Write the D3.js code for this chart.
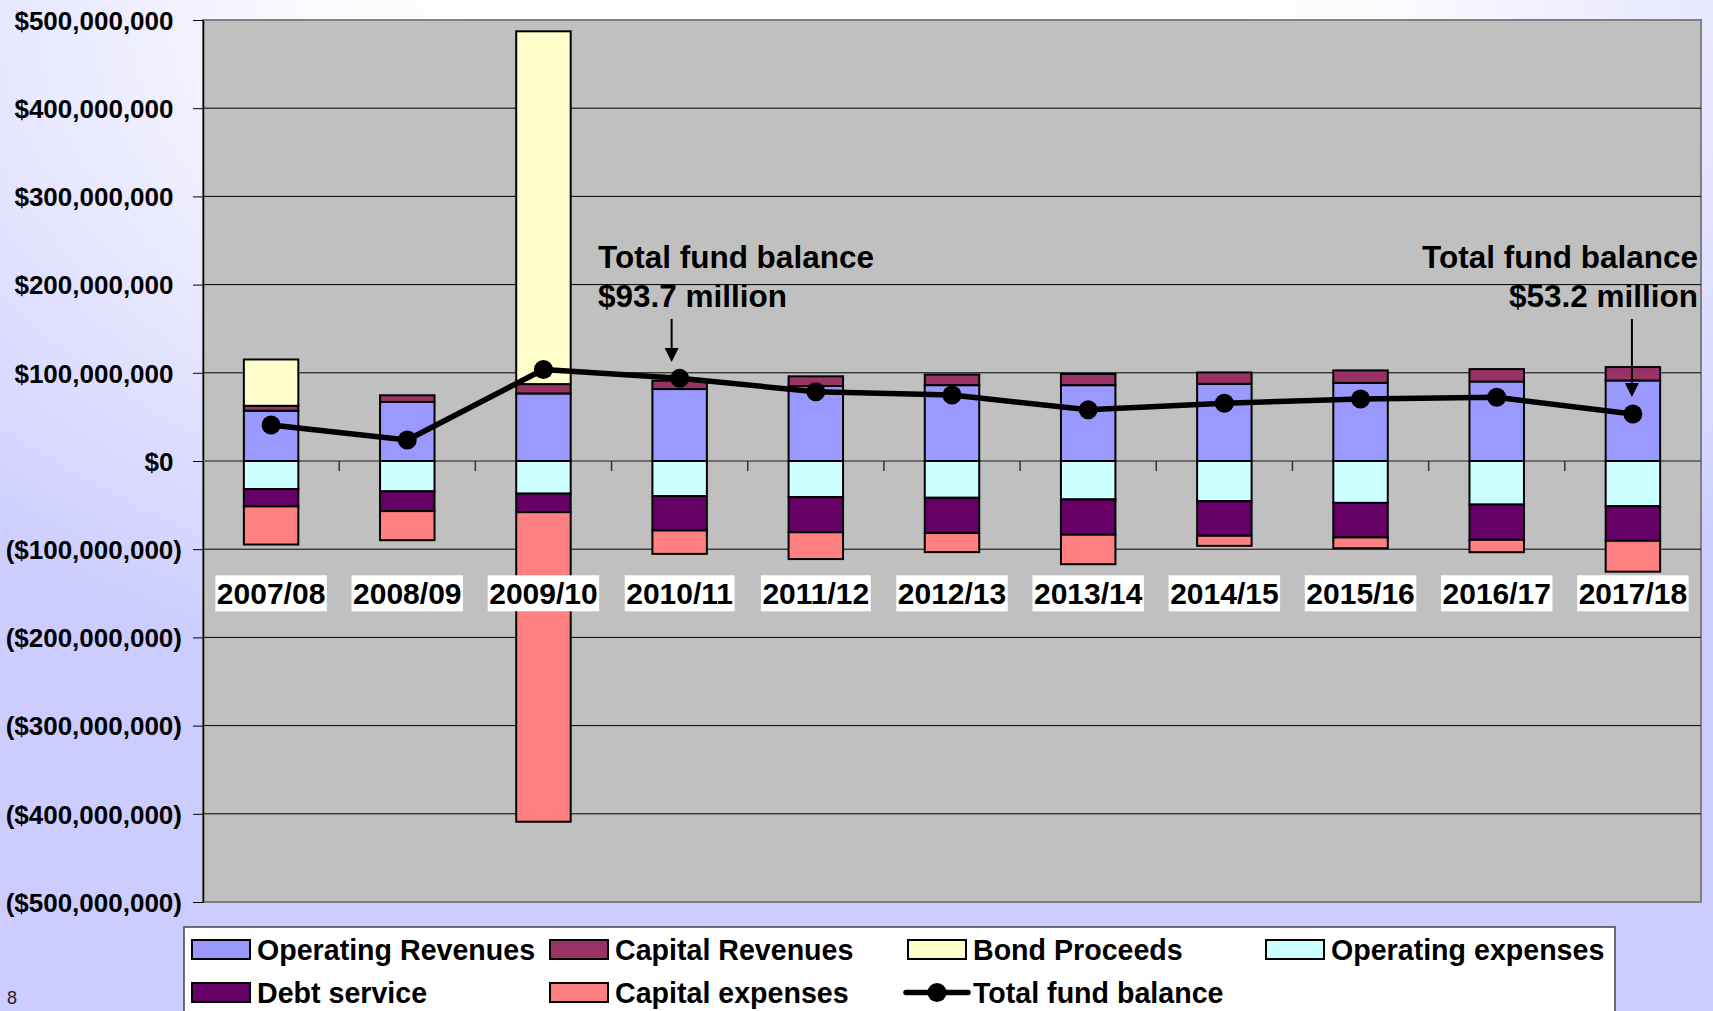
<!DOCTYPE html>
<html>
<head>
<meta charset="utf-8">
<script src="https://cdn.jsdelivr.net/npm/d3@7"></script>
<style>
  html, body { margin: 0; padding: 0; overflow: hidden; }
  svg { display: block; font-family: "Liberation Sans", Arial, sans-serif; }
</style>
</head>
<body>
<script>
// values in millions of dollars
const years = ["2007/08", "2008/09", "2009/10", "2010/11", "2011/12", "2012/13",
               "2013/14", "2014/15", "2015/16", "2016/17", "2017/18"];
const operatingRevenues = [57, 67, 76.6, 81.6, 85, 86, 86, 87.5, 88.6, 90.1, 91.3];
const capitalRevenues   = [5.6, 7.5, 10.6, 9.5, 11, 12, 12.7, 12.9, 14.1, 14.1, 15.2];
const bondProceeds      = [52.5, 0, 400, 0, 0, 0, 0, 0, 0, 0, 0];
const operatingExpenses = [31.8, 34.4, 37, 39.8, 41, 41.7, 43.6, 45.6, 47.5, 49.4, 51.3];
const debtService       = [19.7, 22.4, 21, 39, 39.8, 40, 40, 39.2, 39.2, 40, 39.2];
const capitalExpenses   = [43.2, 33, 351, 26.5, 30.4, 21.6, 33.4, 11.4, 12.2, 14, 35];
const fundBalance       = [40.8, 23.8, 103.8, 93.7, 78.6, 74.8, 58, 65.4, 70.3, 72.2, 53.2];
const yTicks = [500, 400, 300, 200, 100, 0, -100, -200, -300, -400, -500];

const series = [
  { key: "opRev",  name: "Operating Revenues", color: "#9999FF", vals: operatingRevenues, sign: 1 },
  { key: "capRev", name: "Capital Revenues",   color: "#993366", vals: capitalRevenues, sign: 1 },
  { key: "bond",   name: "Bond Proceeds",      color: "#FFFFCC", vals: bondProceeds, sign: 1 },
  { key: "opExp",  name: "Operating expenses", color: "#CCFFFF", vals: operatingExpenses, sign: -1 },
  { key: "debt",   name: "Debt service",       color: "#660066", vals: debtService, sign: -1 },
  { key: "capExp", name: "Capital expenses",   color: "#FF8080", vals: capitalExpenses, sign: -1 }
];

const W = 1713, H = 1011;
const plot = { left: 203, right: 1701, top: 20, bottom: 902 };
const font = '"Liberation Sans", Arial, sans-serif';

const svg = d3.select("body").append("svg")
    .attr("width", W)
    .attr("height", H);

// background gradient
const defs = svg.append("defs");
const grad = defs.append("radialGradient")
    .attr("id", "bg")
    .attr("cx", 0.5).attr("cy", 0).attr("r", 1)
    .attr("fx", 0.5).attr("fy", 0);
grad.append("stop").attr("offset", 0).attr("stop-color", "#ffffff");
grad.append("stop").attr("offset", 0.3).attr("stop-color", "#fcfcff");
grad.append("stop").attr("offset", 0.75).attr("stop-color", "#ccccff");
grad.append("stop").attr("offset", 1).attr("stop-color", "#ccccff");
svg.append("rect").attr("width", W).attr("height", H).attr("fill", "url(#bg)");

// build table for the stack
const table = years.map((yr, i) => {
  const row = { year: yr };
  series.forEach(s => row[s.key] = s.sign * s.vals[i] * 1e6);
  return row;
});
const stacked = d3.stack()
    .keys(series.map(s => s.key))
    .offset(d3.stackOffsetDiverging)(table);

const x = d3.scaleBand()
    .domain(years)
    .range([plot.left, plot.right])
    .paddingInner(0.6)
    .paddingOuter(0.3);
const step = x.step();

const y = d3.scaleLinear()
    .domain([-5e8, 5e8])
    .range([plot.bottom, plot.top]);

// plot area
svg.append("rect")
    .attr("x", plot.left).attr("y", plot.top)
    .attr("width", plot.right - plot.left)
    .attr("height", plot.bottom - plot.top)
    .attr("fill", "#C0C0C0")
    .attr("stroke", "#808080")
    .attr("stroke-width", 2);

// gridlines
svg.append("g")
  .selectAll("line")
  .data(yTicks.filter(t => t !== 0 && Math.abs(t) !== 500))
  .join("line")
    .attr("x1", plot.left).attr("x2", plot.right)
    .attr("y1", d => y(d * 1e6)).attr("y2", d => y(d * 1e6))
    .attr("stroke", "#000")
    .attr("stroke-width", 1);

// y axis
const fmt = d3.format("$,");
const yAxis = d3.axisLeft(y)
    .tickValues(yTicks.map(t => t * 1e6))
    .tickSize(10)
    .tickSizeOuter(0)
    .tickFormat(v => v < 0 ? "(" + fmt(-v) + ")" : fmt(v));
const ya = svg.append("g")
    .attr("transform", `translate(${plot.left},0)`)
    .call(yAxis);
ya.select(".domain").attr("stroke", "#000").attr("stroke-width", 1.5);
ya.selectAll(".tick line").attr("stroke", "#000");
ya.selectAll(".tick text")
    .attr("font-family", font)
    .attr("font-size", 26)
    .attr("font-weight", "bold")
    .attr("fill", "#000")
    .attr("x", d => d < 0 ? -21 : -29.5)
    .attr("dy", "0.36em");

// zero line with category tick marks
svg.append("line")
    .attr("x1", plot.left).attr("x2", plot.right)
    .attr("y1", y(0)).attr("y2", y(0))
    .attr("stroke", "#555")
    .attr("stroke-width", 1.5);
svg.append("g")
  .selectAll("line")
  .data(years.slice(1))
  .join("line")
    .attr("x1", d => x(d) - step * 0.3)
    .attr("x2", d => x(d) - step * 0.3)
    .attr("y1", y(0)).attr("y2", y(0) + 10)
    .attr("stroke", "#333")
    .attr("stroke-width", 1.5);

// stacked bars
svg.append("g")
  .selectAll("g")
  .data(stacked)
  .join("g")
    .attr("fill", (d, i) => series[i].color)
  .selectAll("rect")
  .data(d => d.filter(p => p[1] !== p[0]))
  .join("rect")
    .attr("x", d => x(d.data.year))
    .attr("width", x.bandwidth())
    .attr("y", d => y(Math.max(d[0], d[1])))
    .attr("height", d => Math.abs(y(d[0]) - y(d[1])))
    .attr("stroke", "#000")
    .attr("stroke-width", 2);

// total fund balance line
const cx = d => x(d) + x.bandwidth() / 2;
const line = d3.line()
    .x((d, i) => cx(years[i]))
    .y(d => y(d * 1e6));
svg.append("path")
    .datum(fundBalance)
    .attr("d", line)
    .attr("fill", "none")
    .attr("stroke", "#000")
    .attr("stroke-width", 5.5)
    .attr("stroke-linejoin", "round");
svg.append("g")
  .selectAll("circle")
  .data(fundBalance)
  .join("circle")
    .attr("cx", (d, i) => cx(years[i]))
    .attr("cy", d => y(d * 1e6))
    .attr("r", 9.5)
    .attr("fill", "#000");

// category labels on white boxes
const labelY = y(-1.5e8);
const catG = svg.append("g")
  .selectAll("g")
  .data(years)
  .join("g")
    .attr("transform", d => `translate(${cx(d)},${labelY})`);
catG.append("rect").attr("fill", "#fff");
catG.append("text")
    .attr("text-anchor", "middle")
    .attr("dy", "0.36em")
    .attr("font-family", font)
    .attr("font-size", 30)
    .attr("font-weight", "bold")
    .attr("fill", "#000")
    .text(d => d);
catG.each(function() {
  const g = d3.select(this);
  const w = g.select("text").node().getComputedTextLength();
  g.select("rect")
      .attr("x", -w / 2 - 1.5).attr("width", w + 3)
      .attr("y", -18).attr("height", 36);
});

// annotations
function annotate(tx, anchor, arrowX, arrowEnd, lines) {
  const t = svg.append("text")
      .attr("font-family", font)
      .attr("font-size", 31.5)
      .attr("font-weight", "bold")
      .attr("fill", "#000")
      .attr("text-anchor", anchor);
  lines.forEach((s, i) => t.append("tspan").attr("x", tx).attr("y", 268 + i * 39).text(s));
  svg.append("line")
      .attr("x1", arrowX).attr("x2", arrowX)
      .attr("y1", 319).attr("y2", arrowEnd - 12)
      .attr("stroke", "#000").attr("stroke-width", 2);
  svg.append("path")
      .attr("d", `M${arrowX - 7},${arrowEnd - 14} L${arrowX + 7},${arrowEnd - 14} L${arrowX},${arrowEnd} Z`)
      .attr("fill", "#000");
}
annotate(598, "start", cx(years[3]) - 8, 362, ["Total fund balance", "$93.7 million"]);
annotate(1698, "end", cx(years[10]) - 1, 397, ["Total fund balance", "$53.2 million"]);

// legend
const legend = svg.append("g");
legend.append("rect")
    .attr("x", 184).attr("y", 927)
    .attr("width", 1431).attr("height", 120)
    .attr("fill", "#fff")
    .attr("stroke", "#444")
    .attr("stroke-width", 1.5);
const legendItems = series.map(s => ({ name: s.name, color: s.color, type: "box" }))
    .concat([{ name: "Total fund balance", type: "line" }]);
const colX = [192, 550, 908, 1266];
const rowY = [949.5, 992.5];
legendItems.forEach((d, i) => {
  const lx = colX[i % 4], ly = rowY[Math.floor(i / 4)];
  const g = legend.append("g").attr("transform", `translate(${lx},${ly})`);
  if (d.type === "box") {
    g.append("rect")
        .attr("x", 0).attr("y", -9.5)
        .attr("width", 58).attr("height", 19)
        .attr("fill", d.color)
        .attr("stroke", "#000")
        .attr("stroke-width", 2);
  } else {
    g.append("line")
        .attr("x1", -2).attr("x2", 60)
        .attr("y1", 0).attr("y2", 0)
        .attr("stroke", "#000").attr("stroke-width", 5.5)
        .attr("stroke-linecap", "round");
    g.append("circle").attr("cx", 29).attr("cy", 0).attr("r", 9.5).attr("fill", "#000");
  }
  g.append("text")
      .attr("x", 65)
      .attr("y", 10)
      .attr("font-family", font)
      .attr("font-size", 28.6)
      .attr("font-weight", "bold")
      .attr("fill", "#000")
      .text(d.name);
});

// page number
svg.append("text")
    .attr("x", 7).attr("y", 1004)
    .attr("font-family", font)
    .attr("font-size", 18)
    .attr("fill", "#222")
    .text("8");
</script>
</body>
</html>
